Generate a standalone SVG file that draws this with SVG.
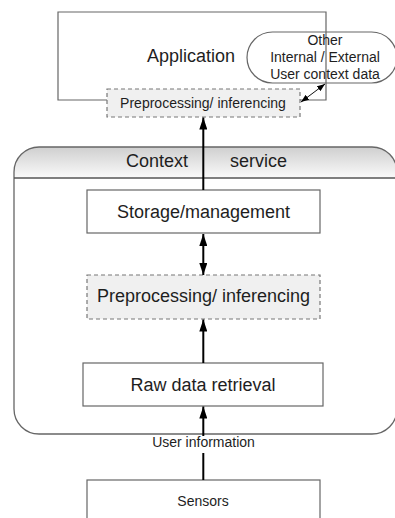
<svg xmlns="http://www.w3.org/2000/svg" width="395" height="518" viewBox="0 0 395 518">
  <style>
    text { font-family: "Liberation Sans", Arial, sans-serif; fill: #1e1e1e; text-anchor: middle; }
    .box { fill: #ffffff; stroke: #666666; stroke-width: 1.2; }
    .dash { fill: #f0f0f0; stroke: #777777; stroke-width: 1.2; stroke-dasharray: 4 3; }
    .edge { fill: none; stroke: #000000; stroke-width: 2; }
    .thin { fill: none; stroke: #111111; stroke-width: 1; }
  </style>
  <defs>
    <linearGradient id="hdr" x1="0" y1="0" x2="0" y2="1">
      <stop offset="0" stop-color="#cfcfcf"/>
      <stop offset="1" stop-color="#fafafa"/>
    </linearGradient>
    <marker id="ah" viewBox="0 0 12 8" refX="12" refY="4" markerWidth="12" markerHeight="8" markerUnits="userSpaceOnUse" orient="auto-start-reverse">
      <path d="M0,0 L12,4 L0,8 Z" fill="#000"/>
    </marker>
    <marker id="ahs" viewBox="0 0 8 6" refX="8" refY="3" markerWidth="8" markerHeight="6" markerUnits="userSpaceOnUse" orient="auto-start-reverse">
      <path d="M0,0 L8,3 L0,6 Z" fill="#000"/>
    </marker>
  </defs>

  <!-- Context service container -->
  <g id="context-service">
    <path d="M14,178 V172 A25,25 0 0 1 39,147 H372 A25,25 0 0 1 397,172 V178 Z" fill="url(#hdr)"/>
    <rect x="14" y="147" width="383" height="287" rx="25" ry="25" fill="none" stroke="#666666" stroke-width="1.3"/>
    <line x1="14" y1="178" x2="397" y2="178" stroke="#555555" stroke-width="1.5"/>
    <text x="157" y="167" font-size="18">Context</text>
    <text x="258.5" y="167" font-size="18">service</text>
  </g>

  <!-- Application -->
  <g id="application">
    <path d="M300,100 H326 V12 H58 V100 H107" class="box" fill="none" stroke="#666666"/>
    <text x="191" y="62" font-size="18">Application</text>
  </g>

  <!-- Other user context data -->
  <g id="other-context">
    <rect x="247" y="32" width="150" height="51" rx="25.5" ry="25.5" fill="none" stroke="#666666" stroke-width="1.2"/>
    <text x="325" y="44.5" font-size="14">Other</text>
    <text x="325" y="62" font-size="14">Internal / External</text>
    <text x="325" y="79" font-size="14">User context data</text>
  </g>

  <!-- Application-side preprocessing -->
  <g id="app-preprocessing">
    <rect x="107" y="89" width="193" height="28" class="dash"/>
    <text x="203" y="108" font-size="14">Preprocessing/ inferencing</text>
  </g>

  <g id="storage">
    <rect x="87" y="190" width="233" height="43" class="box"/>
    <text x="203.5" y="217.5" font-size="18">Storage/management</text>
  </g>

  <g id="service-preprocessing">
    <rect x="87" y="275" width="233" height="44" class="dash"/>
    <text x="203.5" y="302" font-size="18">Preprocessing/ inferencing</text>
  </g>

  <g id="raw-data">
    <rect x="83" y="363" width="240" height="43" class="box"/>
    <text x="203" y="390.5" font-size="18">Raw data retrieval</text>
  </g>

  <g id="sensors">
    <rect x="87" y="480" width="233" height="50" class="box"/>
    <text x="203" y="506" font-size="14">Sensors</text>
  </g>

  <!-- Connectors -->
  <g id="connectors">
    <line x1="203.3" y1="190" x2="203.3" y2="117.5" class="edge" marker-end="url(#ah)"/>
    <line x1="203.3" y1="234" x2="203.3" y2="275" class="edge" marker-start="url(#ah)" marker-end="url(#ah)"/>
    <line x1="203.3" y1="363" x2="203.3" y2="319.5" class="edge" marker-end="url(#ah)"/>
    <line x1="203.3" y1="480" x2="203.3" y2="406.5" class="edge" marker-end="url(#ah)"/>
    <line x1="301" y1="102" x2="325" y2="84" class="thin" marker-start="url(#ahs)" marker-end="url(#ahs)"/>
    <rect x="151" y="436" width="105" height="17" fill="#ffffff"/>
    <text x="203.5" y="447" font-size="14">User information</text>
  </g>
</svg>
